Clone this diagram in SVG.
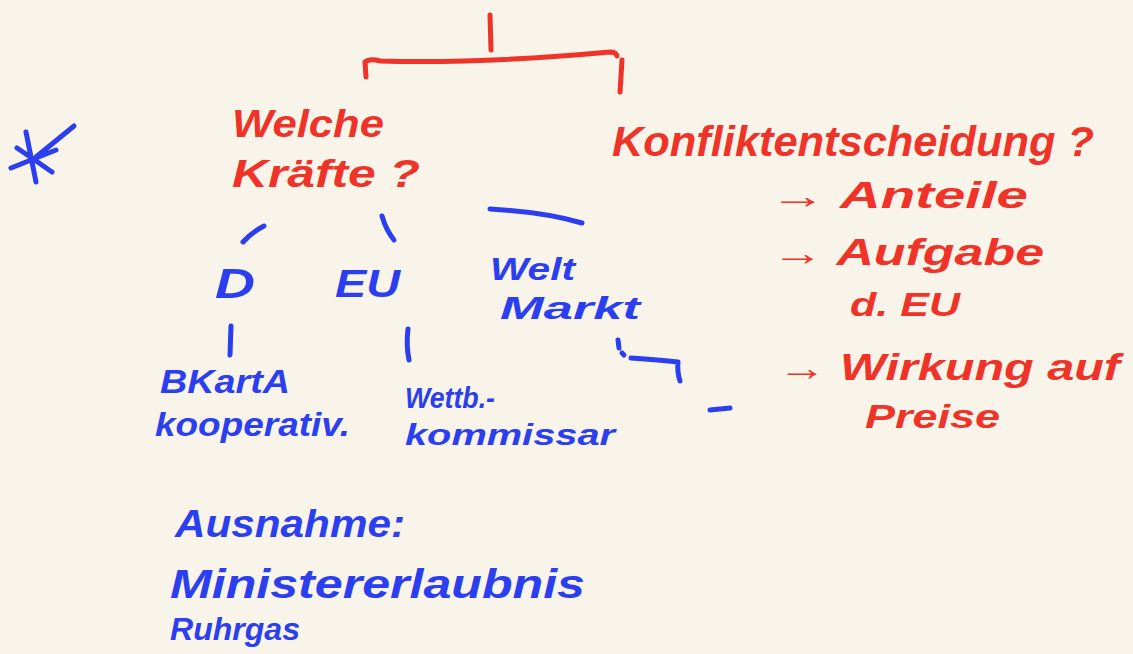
<svg xmlns="http://www.w3.org/2000/svg" width="1133" height="654" viewBox="0 0 1133 654">
<style>
.r{fill:#f03328;font-family:"Liberation Sans",Arial,sans-serif;font-weight:bold;font-style:italic}
.b{fill:#2b3ff0;font-family:"Liberation Sans",Arial,sans-serif;font-weight:bold;font-style:italic}
.rl{stroke:#f03328;stroke-width:5;fill:none;stroke-linecap:round;stroke-linejoin:round}
.bl{stroke:#2b3ff0;stroke-width:5;fill:none;stroke-linecap:round;stroke-linejoin:round}
</style>
<rect width="1133" height="654" fill="#f8f4e9"/>
<g id="connectors">
<path class="rl" d="M490 15 L491 50"/>
<path class="rl" d="M366 77 L365 62 Q370 58 380 61 Q480 64 610 52 Q616 52 617 56"/>
<path class="rl" d="M622 60 L620 92"/>
<path class="bl" d="M243 242 Q252 232 264 226"/>
<path class="bl" d="M382 216 Q386 230 394 240"/>
<path class="bl" d="M490 209 Q545 212 582 223"/>
<path class="bl" d="M231 326 L230 355"/>
<path class="bl" d="M408 329 Q406 345 409 360"/>
<path class="bl" d="M618 340 L619 348 M622 353 L624 355"/>
<path class="bl" d="M631 358 Q660 360 678 362 Q677 372 680 381"/>
<path class="bl" d="M710 410 L730 408"/>
</g>
<g id="star"><path class="bl" d="M26 132 L36 182 M11 168 L56 150 M17 148 Q32 158 52 172 M36 157 L74 126"/></g>
<g id="welche"><text class="r" x="232" y="137" font-size="38" textLength="152" lengthAdjust="spacingAndGlyphs">Welche</text><text class="r" x="232" y="187" font-size="38" textLength="188" lengthAdjust="spacingAndGlyphs">Kräfte ?</text></g>
<g id="konflikt"><text class="r" x="612" y="156" font-size="42" textLength="482" lengthAdjust="spacingAndGlyphs">Konfliktentscheidung ?</text></g>
<g id="anteile"><text class="r" x="770" y="208" font-size="36" textLength="258" lengthAdjust="spacingAndGlyphs">→  Anteile</text></g>
<g id="aufgabe"><text class="r" x="772" y="265" font-size="36" textLength="272" lengthAdjust="spacingAndGlyphs">→  Aufgabe</text><text class="r" x="850" y="316" font-size="34" textLength="110" lengthAdjust="spacingAndGlyphs">d. EU</text></g>
<g id="wirkung"><text class="r" x="778" y="380" font-size="36" textLength="342" lengthAdjust="spacingAndGlyphs">→  Wirkung auf</text><text class="r" x="865" y="428" font-size="34" textLength="135" lengthAdjust="spacingAndGlyphs">Preise</text></g>
<g id="d"><text class="b" x="215" y="298" font-size="42" textLength="40" lengthAdjust="spacingAndGlyphs">D</text></g>
<g id="eu"><text class="b" x="335" y="297" font-size="38" textLength="65" lengthAdjust="spacingAndGlyphs">EU</text></g>
<g id="weltmarkt"><text class="b" x="490" y="280" font-size="32" textLength="85" lengthAdjust="spacingAndGlyphs">Welt</text><text class="b" x="500" y="319" font-size="32" textLength="140" lengthAdjust="spacingAndGlyphs">Markt</text></g>
<g id="bkarta"><text class="b" x="160" y="393" font-size="34" textLength="130" lengthAdjust="spacingAndGlyphs">BKartA</text><text class="b" x="155" y="436" font-size="34" textLength="195" lengthAdjust="spacingAndGlyphs">kooperativ.</text></g>
<g id="wettb"><text class="b" x="405" y="408" font-size="30" textLength="90" lengthAdjust="spacingAndGlyphs">Wettb.-</text><text class="b" x="405" y="445" font-size="30" textLength="210" lengthAdjust="spacingAndGlyphs">kommissar</text></g>
<g id="ausnahme"><text class="b" x="175" y="537" font-size="38" textLength="230" lengthAdjust="spacingAndGlyphs">Ausnahme:</text><text class="b" x="170" y="598" font-size="40" textLength="415" lengthAdjust="spacingAndGlyphs">Ministererlaubnis</text><text class="b" x="170" y="640" font-size="32" textLength="130" lengthAdjust="spacingAndGlyphs">Ruhrgas</text></g>
</svg>
